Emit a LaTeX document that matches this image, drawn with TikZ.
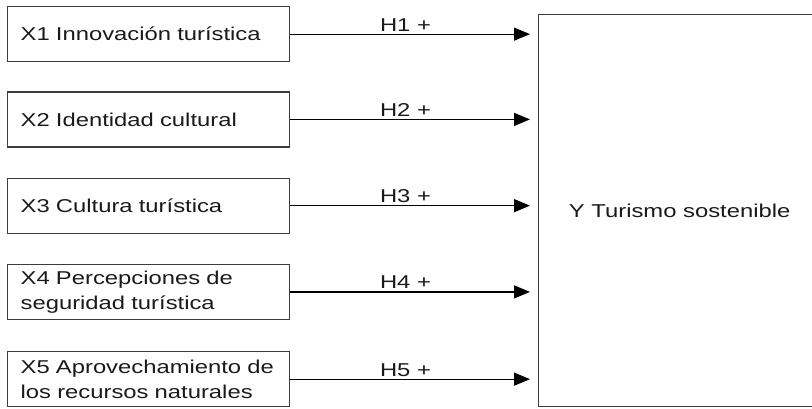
\documentclass[tikz,border=0pt]{standalone}
\usepackage{fontspec}
\setmainfont{Liberation Sans}[FakeStretch=1.28]
\usetikzlibrary{arrows.meta}
\definecolor{boxline}{HTML}{3C3C3C}
\definecolor{txt}{HTML}{1A1A1A}
\begin{document}
\begin{tikzpicture}[x=1pt,y=-1pt,
  font=\fontsize{18.6}{25}\selectfont,
  xbox/.style={draw=boxline, line width=1.3pt, text=txt, anchor=north west,
    minimum width=282pt, minimum height=55pt, text width=256pt,
    inner xsep=13pt, inner ysep=3pt, align=left},
  ybox/.style={draw=boxline, line width=1.3pt, text=txt, anchor=north west,
    minimum width=320pt, minimum height=392.5pt, inner sep=0pt},
  conn/.style={draw=black, line width=1.2pt, -{Triangle[length=16pt,width=13pt]}, shorten >=8pt},
  hlab/.style={text=txt, anchor=base, inner sep=0pt, yshift=3pt}]
\useasboundingbox (0,0) rectangle (812,408);
\node[xbox] (x1) at (7,6) {\mbox{X1 Innovación turística}};
\node[xbox] (x2) at (7,91.25) {\mbox{X2 Identidad cultural}};
\node[xbox] (x3) at (7,177.5) {\mbox{X3 Cultura turística}};
\node[xbox] (x4) at (7,263.75) {\mbox{X4 Percepciones de}\\\mbox{seguridad turística}};
\node[xbox] (x5) at (7,351) {\mbox{X5 Aprovechamiento de}\\\mbox{los recursos naturales}};
\node[ybox] (y) at (538,13.5) {Y Turismo sostenible\kern38pt\relax};
\foreach \i in {1,...,5}{
  \draw[conn] (x\i.east) -- (x\i.east -| y.west) node[hlab, pos=0.465] {H\i\ +};
}
\end{tikzpicture}
\end{document}
